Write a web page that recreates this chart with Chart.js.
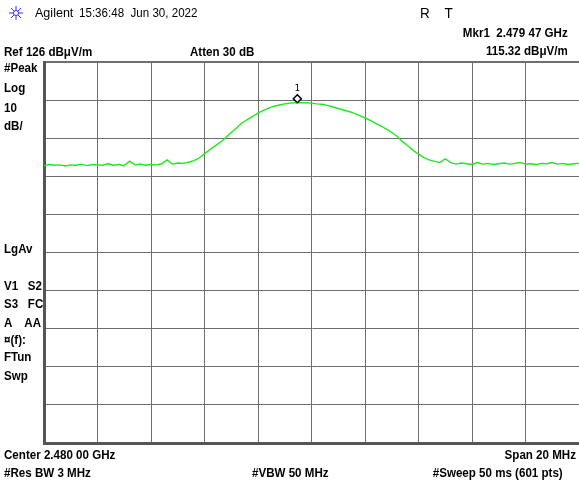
<!DOCTYPE html>
<html>
<head>
<meta charset="utf-8">
<script src="https://cdn.jsdelivr.net/npm/chart.js@4.4.1/dist/chart.umd.min.js"></script>
<style>
	body { margin: 0; background: #fff; }
	#wrap { position: relative; width: 579px; height: 483px; overflow: hidden; }
	#wrap canvas { position: absolute; left: 0; top: 0; }
	.t { position: absolute; font-family: "Liberation Sans", Arial, sans-serif; font-size: 12px; font-weight: bold; color: #000; white-space: pre; line-height: 14px; transform: scaleX(0.965); transform-origin: left top; }
	.r { transform-origin: right top; }
	.n { font-weight: normal; font-size: 13px; }
</style>
</head>
<body>
<div id="wrap">
	<canvas id="myChart" width="579" height="483"></canvas>
	<svg style="position:absolute;left:9px;top:6px" width="14" height="14" viewBox="0 0 14 14">
		<g stroke="#3333ff" stroke-width="1">
			<line x1="7" y1="0" x2="7" y2="14"/><line x1="0" y1="7" x2="14" y2="7"/>
			<line x1="2" y1="2" x2="12" y2="12"/><line x1="12" y1="2" x2="2" y2="12"/>
		</g>
		<circle cx="7" cy="7" r="2.5" fill="#fff" stroke="#3333ff"/>
	</svg>
	<div class="t n" style="left:35px;top:6px">Agilent</div>
	<div class="t n" style="left:79px;top:6px;font-size:12px">15:36:48  Jun 30, 2022</div>
	<div class="t n" style="left:420px;top:6px;font-size:14px">R    T</div>
	<div class="t r" style="right:11px;top:26px">Mkr1  2.479 47 GHz</div>
	<div class="t r" style="right:11px;top:44px">115.32 dBμV/m</div>
	<div class="t" style="left:4px;top:45px">Ref 126 dBμV/m</div>
	<div class="t" style="left:190px;top:45px">Atten 30 dB</div>
	<div class="t" style="left:4px;top:61px">#Peak</div>
	<div class="t" style="left:4px;top:81px">Log</div>
	<div class="t" style="left:4px;top:101px">10</div>
	<div class="t" style="left:4px;top:119px">dB/</div>
	<div class="t" style="left:4px;top:242px">LgAv</div>
	<div class="t" style="left:4px;top:279px">V1   S2</div>
	<div class="t" style="left:4px;top:297px">S3   FC</div>
	<div class="t" style="left:4px;top:316px">A    AA</div>
	<div class="t" style="left:4px;top:333px">¤(f):</div>
	<div class="t" style="left:4px;top:350px">FTun</div>
	<div class="t" style="left:4px;top:369px">Swp</div>
	<div class="t" style="left:4px;top:448px">Center 2.480 00 GHz</div>
	<div class="t r" style="right:3px;top:448px">Span 20 MHz</div>
	<div class="t" style="left:4px;top:466px">#Res BW 3 MHz</div>
	<div class="t" style="left:252px;top:466px">#VBW 50 MHz</div>
	<div class="t r" style="right:16px;top:466px">#Sweep 50 ms (601 pts)</div>
</div>
<script>
var startMHz = 2470;
var stepMHz = 0.2;
var refLevel = 126;
var dbPerDiv = 10;

// trace, one value per 0.2 MHz
var levels = [
	98.8, 99.1, 98.9, 99.0, 98.7, 99.0, 98.9, 99.2, 98.8, 99.1,
	99.0, 98.9, 99.3, 98.9, 99.1, 98.8, 100.0, 99.0, 99.2, 98.9,
	99.1, 99.0, 99.3, 100.3, 99.2, 99.5, 99.4, 99.7, 100.1, 100.8,
	101.9, 103.0, 104.0, 105.0, 106.2, 107.5, 108.7, 110.0, 110.9, 111.7,
	112.6, 113.3, 113.9, 114.4, 114.7, 115.0, 115.2, 115.3, 115.3, 115.3,
	115.2, 115.0, 114.9, 114.6, 114.2, 113.8, 113.4, 113.0, 112.5, 111.9,
	111.3, 110.7, 109.9, 109.2, 108.4, 107.5, 106.5, 105.1, 104.0, 102.8,
	101.8, 100.9, 100.3, 99.9, 99.6, 100.6, 99.6, 99.2, 99.5, 99.3,
	99.1, 99.6, 99.2, 99.4, 99.1, 99.3, 99.5, 99.2, 99.4, 99.6,
	99.2, 99.3, 99.1, 99.4, 99.3, 99.6, 99.2, 99.4, 99.1, 99.3,
	99.4
];

var markerFreq = 2479.47;
var markerLevel = 115.32;
var markerLabel = "1";

var trace = levels.map((v, i) => ({ x: startMHz + i * stepMHz, y: v }));

var markerPlugin = {
	id: "marker",
	afterDatasetsDraw(chart) {
		var ctx = chart.ctx;
		var px = chart.scales.x.getPixelForValue(markerFreq);
		var py = chart.scales.y.getPixelForValue(markerLevel) - 4;
		ctx.save();
		ctx.strokeStyle = "#000";
		ctx.fillStyle = "#fff";
		ctx.lineWidth = 1.5;
		ctx.beginPath();
		ctx.moveTo(px, py - 4);
		ctx.lineTo(px + 4, py);
		ctx.lineTo(px, py + 4);
		ctx.lineTo(px - 4, py);
		ctx.closePath();
		ctx.fill();
		ctx.stroke();
		ctx.fillStyle = "#000";
		ctx.font = "9px 'DejaVu Sans Mono', monospace";
		ctx.textAlign = "center";
		ctx.fillText(markerLabel, px, py - 8);
		ctx.restore();
	},
};

const ctx = document.getElementById("myChart").getContext("2d");
var chart = new Chart(ctx, {
	type: "line",
	data: {
		datasets: [
			{
				data: trace,
				fill: false,
				borderColor: "#1fe81f",
				borderWidth: 1.4,
				pointRadius: 0,
				tension: 0,
			},
		],
	},
	options: {
		responsive: false,
		animation: false,
		events: [],
		plugins: { legend: { display: false }, tooltip: { enabled: false } },
		layout: { padding: { left: 44, top: 62, right: 0, bottom: 40 } },
		scales: {
			x: {
				type: "linear",
				min: startMHz,
				max: startMHz + 20,
				ticks: { display: false, stepSize: 2 },
				grid: { color: "#6e6e6e", lineWidth: 1, drawTicks: false },
				border: { display: true, color: "#555", width: 3 },
			},
			y: {
				min: refLevel - 10 * dbPerDiv,
				max: refLevel,
				ticks: { display: false, stepSize: dbPerDiv },
				grid: {
					color: "#6e6e6e",
					lineWidth: (c) => (c.tick && c.tick.value === refLevel ? 2 : 1),
					drawTicks: false,
				},
				border: { display: true, color: "#555", width: 3 },
			},
		},
	},
	plugins: [markerPlugin],
});
</script>
</body>
</html>
